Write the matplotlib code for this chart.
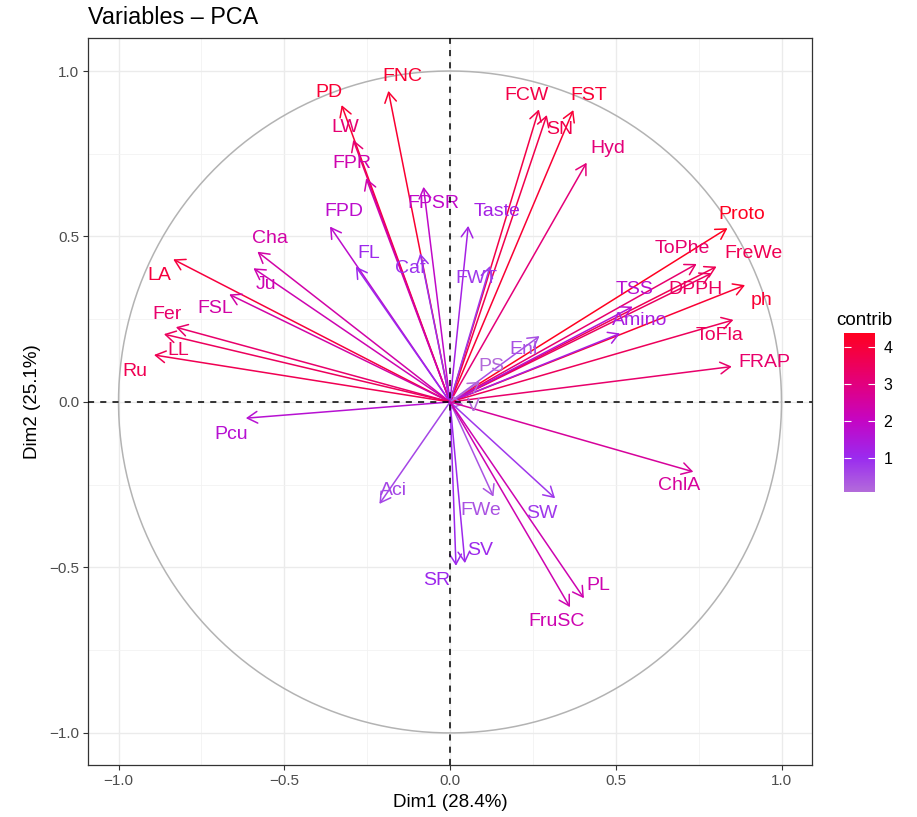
import numpy as np
import matplotlib
matplotlib.use("Agg")
import matplotlib.pyplot as plt
from matplotlib.colors import LinearSegmentedColormap, Normalize
from matplotlib.patches import FancyArrowPatch, ArrowStyle
from matplotlib.cm import ScalarMappable

plt.rcParams['font.family'] = ['Liberation Sans', 'DejaVu Sans']

# variable names, coordinates on Dim1 / Dim2 and contribution
variables = ["PD", "FNC", "LW", "FPR", "FPSR", "FPD", "FL", "Caf", "Cha", "Ju",
             "LA", "FSL", "Fer", "LL", "Ru", "FCW", "SN", "FST", "Hyd", "Taste",
             "FWT", "Proto", "ToPhe", "FreWe", "DPPH", "ph", "TSS", "Amino",
             "ToFla", "FRAP", "Enl", "PS", "V", "Pcu", "Aci", "SR", "SV", "FWe",
             "SW", "ChlA", "PL", "FruSC"]
dim1 = [-0.327, -0.186, -0.292, -0.253, -0.080, -0.362, -0.284, -0.090, -0.581, -0.593,
        -0.835, -0.666, -0.827, -0.863, -0.893, 0.268, 0.292, 0.372, 0.412, 0.055,
        0.121, 0.837, 0.744, 0.804, 0.789, 0.890, 0.551, 0.513,
        0.855, 0.850, 0.270, 0.090, 0.040, -0.616, -0.213, 0.018, 0.045, 0.131,
        0.317, 0.734, 0.404, 0.362]
dim2 = [0.897, 0.940, 0.792, 0.676, 0.650, 0.530, 0.409, 0.449, 0.454, 0.404,
        0.431, 0.325, 0.226, 0.205, 0.142, 0.884, 0.867, 0.882, 0.723, 0.532,
        0.411, 0.525, 0.417, 0.409, 0.389, 0.353, 0.288, 0.207,
        0.248, 0.107, 0.199, 0.061, -0.008, -0.049, -0.308, -0.495, -0.487, -0.286,
        -0.291, -0.211, -0.593, -0.620]
contrib = [4.06, 4.09, 3.17, 2.32, 1.91, 1.83, 1.10, 0.93, 2.42, 2.29,
           3.93, 2.44, 3.27, 3.50, 3.64, 3.80, 3.72, 4.08, 3.08, 1.27,
           0.82, 4.37, 3.24, 3.62, 3.44, 4.08, 1.72, 1.36,
           3.53, 3.27, 0.50, 0.12, 0.10, 1.70, 0.62, 1.09, 1.07, 0.44,
           0.82, 2.60, 2.29, 2.29]
cbar_ticks = [1, 2, 3, 4]

# label offsets from arrow tips (pixels), like the repelled labels
label_nudge = {
    "PD": (-13, 13), "FNC": (14, 14), "LW": (-8, 12), "FPR": (-14, 15),
    "FPSR": (10, -17), "FPD": (14, 15), "FL": (13, 13), "Caf": (-10, -15),
    "Cha": (13, 13), "Ju": (13, -16), "LA": (-14, -16), "FSL": (-14, -14),
    "Fer": (-9, 13), "LL": (14, -16), "Ru": (-19, -17), "FCW": (-12, 14),
    "SN": (13, -14), "FST": (15, 15), "Hyd": (21, 14), "Taste": (29, 14),
    "FWT": (-14, -13), "Proto": (14, 14), "ToPhe": (-14, 15), "FreWe": (37, 13),
    "DPPH": (-16, -16), "ph": (17, -15), "TSS": (2, 17), "Amino": (20, 13),
    "ToFla": (-14, -16), "FRAP": (33, 4), "Enl": (-16, -13), "PS": (12, 15),
    "V": (10, -2), "Pcu": (-15, -16), "Aci": (14, 13), "SR": (-19, -15),
    "SV": (15, 13), "FWe": (-13, -14), "SW": (-13, -15), "ChlA": (-14, -14),
    "PL": (14, 13), "FruSC": (-13, -14),
}

cmap = LinearSegmentedColormap.from_list(
    "contrib", [(0.0, "#B36BDA"), (0.213, "#9A2BEF"), (0.447, "#C405C4"),
                (0.681, "#E2007E"), (1.0, "#FF0020")])
norm = Normalize(vmin=min(contrib), vmax=max(contrib))

fig = plt.figure(figsize=(9.17, 8.17), dpi=100)
ax = fig.add_axes([0.096, 0.0636, 0.7895, 0.890])

ax.set_xlim(-1.092, 1.092)
ax.set_ylim(-1.097, 1.1)

# grid like theme_bw
ax.set_xticks([-1.0, -0.5, 0.0, 0.5, 1.0])
ax.set_yticks([-1.0, -0.5, 0.0, 0.5, 1.0])
ax.set_xticks([-0.75, -0.25, 0.25, 0.75], minor=True)
ax.set_yticks([-0.75, -0.25, 0.25, 0.75], minor=True)
ax.grid(which='major', color='#EBEBEB', linewidth=1.0, zorder=0)
ax.grid(which='minor', color='#F2F2F2', linewidth=0.6, zorder=0)
ax.set_axisbelow(True)
ax.tick_params(which='minor', length=0)
ax.tick_params(which='major', length=3.5, width=0.8, color='#333333',
               labelsize=11, labelcolor='#4D4D4D', pad=3)
for s in ax.spines.values():
    s.set_color('#333333')
    s.set_linewidth(0.9)

# correlation circle
t = np.linspace(0, 2 * np.pi, 400)
ax.plot(np.cos(t), np.sin(t), color='#B3B3B3', linewidth=1.1, zorder=1)

for name, x, y, c in zip(variables, dim1, dim2, contrib):
    col = cmap(norm(c))
    arr = FancyArrowPatch((0, 0), (x, y),
                          arrowstyle=ArrowStyle('->', head_length=0.36, head_width=0.21),
                          mutation_scale=20, color=col, linewidth=1.1,
                          shrinkA=0, shrinkB=0, zorder=2)
    ax.add_patch(arr)
    dx, dy = label_nudge[name]
    ax.annotate(name, (x, y), xytext=(dx, dy), textcoords='offset pixels',
                ha='center', va='center', fontsize=14, color=col, zorder=3)

ax.axhline(0, color='black', linestyle=(0, (4, 4)), linewidth=1.1, zorder=4)
ax.axvline(0, color='black', linestyle=(0, (4, 4)), linewidth=1.1, zorder=4)

ax.set_xlabel("Dim1 (28.4%)", fontsize=13.5, labelpad=4)
ax.set_ylabel("Dim2 (25.1%)", fontsize=13.5, labelpad=6)
fig.text(0.096, 0.979, "Variables \u2013 PCA", fontsize=16.8, ha='left', va='center')

# colour bar for contrib
cax = fig.add_axes([844 / 917, (817 - 492) / 817, 31 / 917, 159 / 817])
sm = ScalarMappable(norm=norm, cmap=cmap)
cb = fig.colorbar(sm, cax=cax, ticks=cbar_ticks)
cb.outline.set_visible(False)
cax.tick_params(axis='y', which='major', direction='in', length=5, width=0.8,
                color='white', left=True, right=True, labelsize=11.5, pad=6)
fig.text(836 / 917, 1 - 320 / 817, "contrib", fontsize=13.5, ha='left', va='center')

fig.savefig("out.png", dpi=100)
